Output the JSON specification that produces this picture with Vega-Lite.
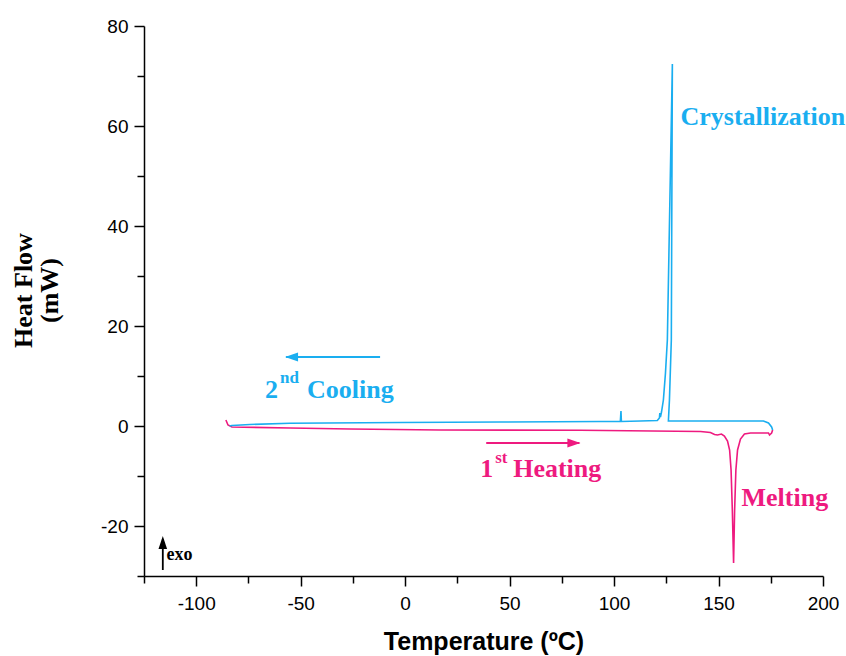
{
  "$schema": "https://vega.github.io/schema/vega-lite/v6.json",
  "width": 679,
  "height": 550,
  "autosize": "none",
  "padding": {"left": 144, "top": 26, "right": 23, "bottom": 80},
  "background": "white",
  "config": {"view": {"stroke": null}},
  "datasets": {
    "curves": [
      {"s": "heat", "i": 0, "T": -85.8, "HF": 1.2},
      {"s": "heat", "i": 1, "T": -84.8, "HF": 0.2},
      {"s": "heat", "i": 2, "T": -82.9, "HF": -0.2},
      {"s": "heat", "i": 3, "T": -55.1, "HF": -0.4},
      {"s": "heat", "i": 4, "T": -26.4, "HF": -0.6},
      {"s": "heat", "i": 5, "T": 16.8, "HF": -0.8},
      {"s": "heat", "i": 6, "T": 83.9, "HF": -0.85},
      {"s": "heat", "i": 7, "T": 141.4, "HF": -1.1},
      {"s": "heat", "i": 8, "T": 146.1, "HF": -1.3},
      {"s": "heat", "i": 9, "T": 148.1, "HF": -1.7},
      {"s": "heat", "i": 10, "T": 149.5, "HF": -1.8},
      {"s": "heat", "i": 11, "T": 151.4, "HF": -1.6},
      {"s": "heat", "i": 12, "T": 152.8, "HF": -2.0},
      {"s": "heat", "i": 13, "T": 154.3, "HF": -3.0},
      {"s": "heat", "i": 14, "T": 155.3, "HF": -4.8},
      {"s": "heat", "i": 15, "T": 156.0, "HF": -8.8},
      {"s": "heat", "i": 16, "T": 156.6, "HF": -16.8},
      {"s": "heat", "i": 17, "T": 157.2, "HF": -27.4},
      {"s": "heat", "i": 18, "T": 157.7, "HF": -16.8},
      {"s": "heat", "i": 19, "T": 158.3, "HF": -8.8},
      {"s": "heat", "i": 20, "T": 159.1, "HF": -4.8},
      {"s": "heat", "i": 21, "T": 160.5, "HF": -2.6},
      {"s": "heat", "i": 22, "T": 162.4, "HF": -1.6},
      {"s": "heat", "i": 23, "T": 165.3, "HF": -1.4},
      {"s": "heat", "i": 24, "T": 173.9, "HF": -1.4},
      {"s": "heat", "i": 25, "T": 174.4, "HF": -1.8},
      {"s": "heat", "i": 26, "T": 175.4, "HF": -1.4},
      {"s": "heat", "i": 27, "T": 175.9, "HF": -0.8},
      {"s": "cool", "i": 0, "T": 175.9, "HF": -0.8},
      {"s": "cool", "i": 1, "T": 175.4, "HF": -0.2},
      {"s": "cool", "i": 2, "T": 173.9, "HF": 0.6},
      {"s": "cool", "i": 3, "T": 171.5, "HF": 1.0},
      {"s": "cool", "i": 4, "T": 141.4, "HF": 1.0},
      {"s": "cool", "i": 5, "T": 126.0, "HF": 1.0},
      {"s": "cool", "i": 6, "T": 126.5, "HF": 5.2},
      {"s": "cool", "i": 7, "T": 127.4, "HF": 17.2},
      {"s": "cool", "i": 8, "T": 127.9, "HF": 72.4},
      {"s": "cool", "i": 9, "T": 125.5, "HF": 17.2},
      {"s": "cool", "i": 10, "T": 124.6, "HF": 10.6},
      {"s": "cool", "i": 11, "T": 123.6, "HF": 5.2},
      {"s": "cool", "i": 12, "T": 122.7, "HF": 2.8},
      {"s": "cool", "i": 13, "T": 122.2, "HF": 1.8},
      {"s": "cool", "i": 14, "T": 121.9, "HF": 2.6},
      {"s": "cool", "i": 15, "T": 121.7, "HF": 1.6},
      {"s": "cool", "i": 16, "T": 120.7, "HF": 1.1},
      {"s": "cool", "i": 17, "T": 112.6, "HF": 1.0},
      {"s": "cool", "i": 18, "T": 103.5, "HF": 0.9},
      {"s": "cool", "i": 19, "T": 103.3, "HF": 3.0},
      {"s": "cool", "i": 20, "T": 103.0, "HF": 0.9},
      {"s": "cool", "i": 21, "T": 93.4, "HF": 0.9},
      {"s": "cool", "i": 22, "T": 45.5, "HF": 0.8},
      {"s": "cool", "i": 23, "T": -2.4, "HF": 0.7},
      {"s": "cool", "i": 24, "T": -55.1, "HF": 0.55},
      {"s": "cool", "i": 25, "T": -74.3, "HF": 0.3},
      {"s": "cool", "i": 26, "T": -82.9, "HF": 0.1},
      {"s": "cool", "i": 27, "T": -84.0, "HF": 0.0}
    ],
    "rules": [
      {"s": "cool", "x": -57.0, "x2": -12.0, "y": 13.8, "y2": 13.8},
      {"s": "heat", "x": 38.8, "x2": 83.4, "y": -3.4, "y2": -3.4},
      {"s": "exo", "x": -116.0, "x2": -116.0, "y": -28.8, "y2": -22.6}
    ],
    "heads": [
      {"s": "cool", "dir": "left", "x": -57.5, "y": 13.8},
      {"s": "heat", "dir": "right", "x": 83.9, "y": -3.4},
      {"s": "exo", "dir": "up", "x": -116.0, "y": -22.0}
    ],
    "bigtext": [
      {"s": "cool", "x": 131.8, "y": 60.2, "t": "Crystallization"},
      {"s": "heat", "x": 161.0, "y": -16.0, "t": "Melting"},
      {"s": "cool", "x": -67.1, "y": 5.6, "t": "2"},
      {"s": "cool", "x": -47.0, "y": 5.6, "t": "Cooling"},
      {"s": "heat", "x": 35.9, "y": -10.2, "t": "1"},
      {"s": "heat", "x": 51.7, "y": -10.2, "t": "Heating"}
    ],
    "suptext": [
      {"s": "cool", "x": -59.9, "y": 8.6, "t": "nd"},
      {"s": "heat", "x": 43.1, "y": -7.4, "t": "st"}
    ],
    "exotext": [
      {"s": "exo", "x": -114.2, "y": -26.8, "t": "exo"}
    ]
  },
  "resolve": {"axis": {"x": "independent", "y": "independent"}},
  "layer": [
    {
      "data": {"name": "curves"},
      "mark": {"type": "line", "strokeWidth": 1.6, "clip": false},
      "encoding": {
        "x": {
          "field": "T", "type": "quantitative",
          "scale": {"domain": [-125, 200], "nice": false, "zero": false},
          "axis": {
            "orient": "bottom",
            "values": [-100, -50, 0, 50, 100, 150, 200],
            "labelExpr": "'' + datum.value",
            "grid": false, "tickSize": 10, "tickWidth": 1.5, "tickColor": "black",
            "domainColor": "black", "domainWidth": 1.5,
            "labelFont": "Liberation Sans", "labelFontSize": 19, "labelColor": "black",
            "labelPadding": 8, "labelFlush": false, "labelOverlap": false,
            "title": "Temperature (ºC)", "titleFont": "Liberation Sans", "titleFontSize": 25,
            "titleFontWeight": "bold", "titleColor": "black", "titlePadding": 16
          }
        },
        "y": {
          "field": "HF", "type": "quantitative",
          "scale": {"domain": [-30, 80], "nice": false, "zero": false},
          "axis": {
            "orient": "left",
            "values": [-20, 0, 20, 40, 60, 80],
            "labelExpr": "'' + datum.value",
            "grid": false, "tickSize": 10, "tickWidth": 1.5, "tickColor": "black",
            "domainColor": "black", "domainWidth": 1.5,
            "labelFont": "Liberation Sans", "labelFontSize": 19, "labelColor": "black",
            "labelPadding": 6, "labelFlush": false, "labelOverlap": false,
            "title": ["Heat Flow", "(mW)"], "titleFont": "Liberation Serif", "titleFontSize": 26,
            "titleFontWeight": "bold", "titleColor": "black", "titleAngle": -90,
            "titleX": -121, "titleY": 264, "titleAlign": "center", "titleBaseline": "middle",
            "titleLineHeight": 26
          }
        },
        "color": {
          "field": "s", "type": "nominal",
          "scale": {"domain": ["cool", "heat", "exo"], "range": ["#1aaef0", "#ee1a7f", "#000000"]},
          "legend": null
        },
        "detail": {"field": "s"},
        "order": {"field": "i", "type": "quantitative"}
      }
    },
    {
      "data": {"name": "rules"},
      "mark": {"type": "rule", "strokeWidth": 1.8},
      "encoding": {
        "x": {
          "field": "x", "type": "quantitative",
          "axis": {
            "orient": "bottom",
            "values": [-125, -75, -25, 25, 75, 125, 175],
            "grid": false, "tickSize": 7, "tickWidth": 1.5, "tickColor": "black",
            "domain": false, "labels": false, "title": null
          }
        },
        "x2": {"field": "x2"},
        "y": {
          "field": "y", "type": "quantitative",
          "axis": {
            "orient": "left",
            "values": [-30, -10, 10, 30, 50, 70],
            "grid": false, "tickSize": 7, "tickWidth": 1.5, "tickColor": "black",
            "domain": false, "labels": false, "title": null
          }
        },
        "y2": {"field": "y2"},
        "color": {"field": "s", "type": "nominal", "legend": null}
      }
    },
    {
      "data": {"name": "heads"},
      "mark": {"type": "point", "filled": true, "opacity": 1, "strokeWidth": 0},
      "encoding": {
        "x": {"field": "x", "type": "quantitative", "axis": null},
        "y": {"field": "y", "type": "quantitative", "axis": null},
        "shape": {
          "field": "dir", "type": "nominal",
          "scale": {"domain": ["left", "right", "up"], "range": ["M0,0L1,-0.35L1,0.35Z", "M0,0L-1,-0.35L-1,0.35Z", "M0,0L-0.33,1L0.33,1Z"]},
          "legend": null
        },
        "size": {"value": 680},
        "color": {"field": "s", "type": "nominal", "legend": null}
      }
    },
    {
      "data": {"name": "bigtext"},
      "mark": {"type": "text", "font": "Liberation Serif", "fontWeight": "bold", "fontSize": 26, "align": "left", "baseline": "alphabetic"},
      "encoding": {
        "x": {"field": "x", "type": "quantitative", "axis": null},
        "y": {"field": "y", "type": "quantitative", "axis": null},
        "text": {"field": "t"},
        "color": {"field": "s", "type": "nominal", "legend": null}
      }
    },
    {
      "data": {"name": "suptext"},
      "mark": {"type": "text", "font": "Liberation Serif", "fontWeight": "bold", "fontSize": 17, "align": "left", "baseline": "alphabetic"},
      "encoding": {
        "x": {"field": "x", "type": "quantitative", "axis": null},
        "y": {"field": "y", "type": "quantitative", "axis": null},
        "text": {"field": "t"},
        "color": {"field": "s", "type": "nominal", "legend": null}
      }
    },
    {
      "data": {"name": "exotext"},
      "mark": {"type": "text", "font": "Liberation Serif", "fontWeight": "bold", "fontSize": 18, "align": "left", "baseline": "alphabetic"},
      "encoding": {
        "x": {"field": "x", "type": "quantitative", "axis": null},
        "y": {"field": "y", "type": "quantitative", "axis": null},
        "text": {"field": "t"},
        "color": {"field": "s", "type": "nominal", "legend": null}
      }
    }
  ]
}
